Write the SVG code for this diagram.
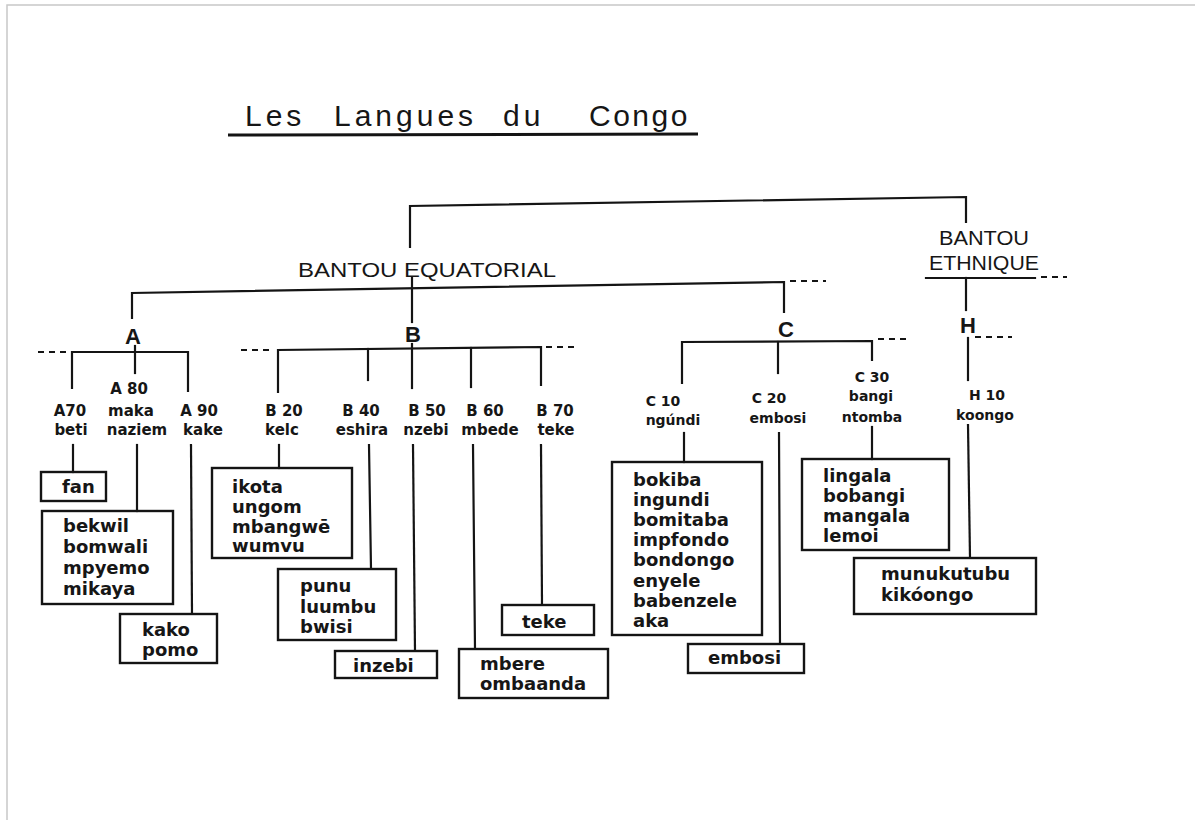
<svg xmlns="http://www.w3.org/2000/svg" width="1195" height="820" viewBox="0 0 1195 820">
<style>
.ln{stroke:#141414;stroke-width:2.2;fill:none;stroke-linecap:square}
.ds{stroke:#141414;stroke-width:2.2;fill:none;stroke-dasharray:6 5}
.bx{stroke:#141414;stroke-width:2.4;fill:none}
.lst{font-family:"DejaVu Sans",sans-serif;font-weight:bold;font-size:18px;fill:#161616}
.lab{font-family:"DejaVu Sans",sans-serif;font-weight:bold;font-size:15px;fill:#161616;text-anchor:middle}
.labs{font-family:"DejaVu Sans",sans-serif;font-weight:bold;font-size:14px;fill:#161616;text-anchor:middle}
.grp{font-family:"Liberation Sans",sans-serif;font-size:21px;fill:#161616}
.big{font-family:"Liberation Sans",sans-serif;font-size:22px;fill:#161616;text-anchor:middle;font-weight:bold}
.ttl{font-family:"Liberation Sans",sans-serif;font-size:30px;fill:#161616;letter-spacing:4px}
</style>
<rect x="0" y="0" width="1195" height="820" fill="#ffffff"/>
<path d="M7 820 V5 H1195" fill="none" stroke="#c8c8c8" stroke-width="1.5"/>

<g id="title">
<text class="ttl" y="126"><tspan x="245">Les</tspan><tspan x="334">Langues</tspan><tspan x="503">du</tspan><tspan x="589" style="letter-spacing:2.5px">Congo</tspan></text>
<line x1="228" y1="135" x2="698" y2="134" stroke="#141414" stroke-width="3"/>
</g>

<g id="connectors">
<polyline class="ln" points="410,247 410,206 966,197 966,222"/>
<polyline class="ln" points="132,318 132,293 784,282 784,312"/>
<line class="ds" x1="790" y1="281" x2="826" y2="281"/>
<line class="ln" x1="412" y1="278" x2="412" y2="322"/>
<line class="ds" x1="38" y1="352" x2="70" y2="352"/>
<polyline class="ln" points="72,388 72,352 188,352 188,391"/>
<line class="ln" x1="135" y1="346" x2="135" y2="373"/>
<line class="ds" x1="241" y1="350" x2="274" y2="350"/>
<polyline class="ln" points="278,392 278,350 541,347 541,385"/>
<line class="ds" x1="546" y1="347" x2="576" y2="347"/>
<line class="ln" x1="368" y1="349" x2="368" y2="380"/>
<line class="ln" x1="412" y1="344" x2="412" y2="388"/>
<line class="ln" x1="471" y1="348" x2="471" y2="387"/>
<polyline class="ln" points="682,383 682,342 872,341 872,360"/>
<line class="ln" x1="778" y1="342" x2="778" y2="373"/>
<line class="ds" x1="878" y1="339" x2="908" y2="339"/>
<line class="ln" x1="926" y1="278" x2="1035" y2="278"/>
<line class="ds" x1="1041" y1="277" x2="1067" y2="277"/>
<line class="ln" x1="966" y1="278" x2="966" y2="310"/>
<line class="ln" x1="968" y1="338" x2="968" y2="380"/>
<line class="ds" x1="975" y1="337" x2="1012" y2="337"/>
<line class="ln" x1="73" y1="445" x2="73" y2="472"/>
<line class="ln" x1="137" y1="445" x2="137" y2="511"/>
<line class="ln" x1="191" y1="445" x2="192" y2="614"/>
<line class="ln" x1="279" y1="445" x2="279" y2="468"/>
<line class="ln" x1="369" y1="445" x2="371" y2="569"/>
<line class="ln" x1="413" y1="445" x2="415" y2="651"/>
<line class="ln" x1="473" y1="445" x2="475" y2="649"/>
<line class="ln" x1="541" y1="445" x2="542" y2="605"/>
<line class="ln" x1="684" y1="433" x2="684" y2="462"/>
<line class="ln" x1="779" y1="433" x2="780" y2="644"/>
<line class="ln" x1="872" y1="427" x2="872" y2="459"/>
<line class="ln" x1="968" y1="425" x2="970" y2="558"/>
</g>

<g id="bantou-equatorial"><text class="grp" x="298" y="277" textLength="258" lengthAdjust="spacingAndGlyphs">BANTOU EQUATORIAL</text></g>
<g id="bantou-ethnique"><text class="grp" x="939" y="245" textLength="90" lengthAdjust="spacingAndGlyphs">BANTOU</text><text class="grp" x="929" y="270" textLength="110" lengthAdjust="spacingAndGlyphs">ETHNIQUE</text></g>

<g id="group-A"><text class="big" x="133" y="344">A</text></g>
<g id="group-B"><text class="big" x="413" y="342">B</text></g>
<g id="group-C"><text class="big" x="786" y="337">C</text></g>
<g id="group-H"><text class="big" x="968" y="333">H</text></g>

<g id="A70"><text class="lab" x="70" y="416">A70</text><text class="lab" x="71" y="435">beti</text></g>
<g id="A80"><text class="lab" x="129" y="394">A 80</text><text class="lab" x="131" y="416">maka</text><text class="lab" x="137" y="435">naziem</text></g>
<g id="A90"><text class="lab" x="199" y="416">A 90</text><text class="lab" x="203" y="435">kake</text></g>
<g id="B20"><text class="lab" x="284" y="416">B 20</text><text class="lab" x="282" y="435">kelc</text></g>
<g id="B40"><text class="lab" x="361" y="416">B 40</text><text class="lab" x="362" y="435">eshira</text></g>
<g id="B50"><text class="lab" x="427" y="416">B 50</text><text class="lab" x="426" y="435">nzebi</text></g>
<g id="B60"><text class="lab" x="485" y="416">B 60</text><text class="lab" x="490" y="435">mbede</text></g>
<g id="B70"><text class="lab" x="555" y="416">B 70</text><text class="lab" x="556" y="435">teke</text></g>
<g id="C10"><text class="labs" x="663" y="406">C 10</text><text class="labs" x="673" y="425">ngúndi</text></g>
<g id="C20"><text class="labs" x="769" y="403">C 20</text><text class="labs" x="778" y="423">embosi</text></g>
<g id="C30"><text class="labs" x="872" y="382">C 30</text><text class="labs" x="871" y="401">bangi</text><text class="labs" x="872" y="422">ntomba</text></g>
<g id="H10"><text class="labs" x="987" y="400">H 10</text><text class="labs" x="985" y="420">koongo</text></g>

<g id="box-fan"><rect class="bx" x="41" y="472" width="65" height="29"/><text class="lst" x="62" y="493">fan</text></g>
<g id="box-bekwil"><rect class="bx" x="42" y="511" width="131" height="93"/><text class="lst"><tspan x="63" y="532">bekwil</tspan><tspan x="63" y="553">bomwali</tspan><tspan x="63" y="574">mpyemo</tspan><tspan x="63" y="595">mikaya</tspan></text></g>
<g id="box-kako"><rect class="bx" x="120" y="614" width="97" height="49"/><text class="lst"><tspan x="142" y="636">kako</tspan><tspan x="142" y="656">pomo</tspan></text></g>
<g id="box-ikota"><rect class="bx" x="212" y="468" width="140" height="90"/><text class="lst"><tspan x="232" y="493">ikota</tspan><tspan x="232" y="513">ungom</tspan><tspan x="232" y="533">mbangwē</tspan><tspan x="232" y="552">wumvu</tspan></text></g>
<g id="box-punu"><rect class="bx" x="278" y="569" width="118" height="71"/><text class="lst"><tspan x="300" y="592">punu</tspan><tspan x="300" y="613">luumbu</tspan><tspan x="300" y="633">bwisi</tspan></text></g>
<g id="box-inzebi"><rect class="bx" x="335" y="651" width="102" height="27"/><text class="lst" x="353" y="672">inzebi</text></g>
<g id="box-teke"><rect class="bx" x="502" y="605" width="92" height="30"/><text class="lst" x="522" y="628">teke</text></g>
<g id="box-mbere"><rect class="bx" x="459" y="649" width="149" height="49"/><text class="lst"><tspan x="480" y="670">mbere</tspan><tspan x="480" y="690">ombaanda</tspan></text></g>
<g id="box-bokiba"><rect class="bx" x="612" y="462" width="150" height="173"/><text class="lst"><tspan x="633" y="486">bokiba</tspan><tspan x="633" y="506">ingundi</tspan><tspan x="633" y="526">bomitaba</tspan><tspan x="633" y="546">impfondo</tspan><tspan x="633" y="566">bondongo</tspan><tspan x="633" y="587">enyele</tspan><tspan x="633" y="607">babenzele</tspan><tspan x="633" y="627">aka</tspan></text></g>
<g id="box-embosi"><rect class="bx" x="688" y="644" width="116" height="29"/><text class="lst" x="708" y="664">embosi</text></g>
<g id="box-lingala"><rect class="bx" x="802" y="459" width="147" height="91"/><text class="lst"><tspan x="823" y="482">lingala</tspan><tspan x="823" y="502">bobangi</tspan><tspan x="823" y="522">mangala</tspan><tspan x="823" y="542">lemoi</tspan></text></g>
<g id="box-munukutubu"><rect class="bx" x="854" y="558" width="182" height="56"/><text class="lst"><tspan x="881" y="580">munukutubu</tspan><tspan x="881" y="601">kikóongo</tspan></text></g>
</svg>
